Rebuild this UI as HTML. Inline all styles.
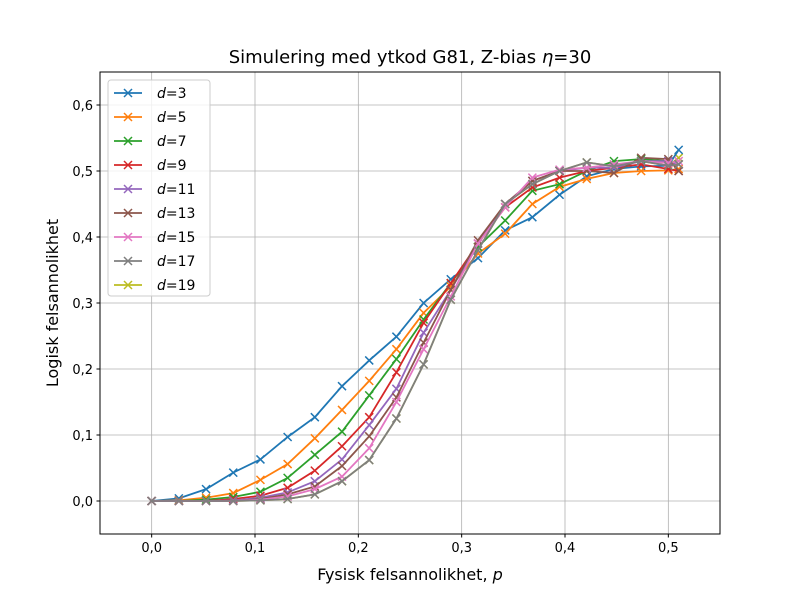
<!DOCTYPE html>
<html><head><meta charset="utf-8"><style>
body{margin:0;background:#fff;}
text{font-family:"DejaVu Sans","Liberation Sans",sans-serif;}
</style></head><body>
<svg id="chart" width="800" height="600" xmlns="http://www.w3.org/2000/svg">
<rect width="800" height="600" fill="#fff"/>
<text x="410" y="63" font-size="18" text-anchor="middle">Simulering med ytkod G81, Z-bias <tspan font-style="italic">η</tspan>=30</text>
<text x="410" y="580" font-size="16" text-anchor="middle">Fysisk felsannolikhet, <tspan font-style="italic">p</tspan></text>
<text transform="translate(58,303) rotate(-90)" font-size="16" text-anchor="middle">Logisk felsannolikhet</text>
<g id="grid"></g><g id="series"></g><g id="ticks"></g>
<rect x="100" y="72" width="620" height="462" fill="none" stroke="#000" stroke-width="1"/>
<g id="legend"></g>
</svg>
<script>
const xTicks=[0,0.1,0.2,0.3,0.4,0.5];
const xTickLabels=["0,0","0,1","0,2","0,3","0,4","0,5"];
const yTicks=[0,0.1,0.2,0.3,0.4,0.5,0.6];
const yTickLabels=["0,0","0,1","0,2","0,3","0,4","0,5","0,6"];
const pValues=[0,1/38,2/38,3/38,4/38,5/38,6/38,7/38,8/38,9/38,10/38,11/38,12/38,13/38,14/38,15/38,16/38,17/38,18/38,19/38,0.51];
const seriesLabels=["3","5","7","9","11","13","15","17","19"];
const d3=[0,0.004,0.018,0.043,0.063,0.097,0.127,0.174,0.213,0.249,0.3,0.336,0.368,0.41,0.43,0.464,0.492,0.503,0.507,0.508,0.532];
const d5=[0,0.001,0.005,0.012,0.032,0.056,0.095,0.138,0.182,0.23,0.285,0.325,0.375,0.405,0.45,0.476,0.488,0.497,0.5,0.501,0.503];
const d7=[0,0,0.002,0.006,0.014,0.035,0.07,0.105,0.16,0.215,0.275,0.33,0.385,0.425,0.47,0.48,0.5,0.515,0.518,0.515,0.51];
const d9=[0,0,0,0.003,0.008,0.02,0.046,0.083,0.127,0.195,0.27,0.33,0.39,0.445,0.475,0.49,0.5,0.505,0.51,0.503,0.5];
const d11=[0,0,0,0.001,0.005,0.013,0.03,0.063,0.115,0.17,0.255,0.32,0.39,0.45,0.485,0.5,0.505,0.505,0.515,0.515,0.51];
const d13=[0,0,0,0,0.003,0.01,0.022,0.053,0.098,0.157,0.24,0.32,0.395,0.45,0.485,0.5,0.5,0.497,0.52,0.518,0.5];
const d15=[0,0,0,0,0.002,0.007,0.018,0.037,0.08,0.15,0.23,0.31,0.39,0.445,0.49,0.502,0.505,0.51,0.515,0.512,0.515];
const d17=[0,0,0,0,0.001,0.003,0.01,0.03,0.062,0.125,0.207,0.305,0.38,0.45,0.48,0.5,0.513,0.507,0.515,0.508,0.51];
const d19=[0,0,0,0,0.001,0.003,0.01,0.03,0.062,0.125,0.207,0.305,0.38,0.45,0.48,0.5,0.513,0.507,0.515,0.508,0.52];
const allSeries=[d3,d5,d7,d9,d11,d13,d15,d17,d19];
const colors=["#1f77b4","#ff7f0e","#2ca02c","#d62728","#9467bd","#8c564b","#e377c2","#7f7f7f","#bcbd22"];
const drawOrder=[8,0,1,2,3,4,5,6,7];
const NS="http://www.w3.org/2000/svg";
const X0=100,X1=720,Y0=534,Y1=72,xmin=-0.05,xmax=0.55,ymin=-0.05,ymax=0.65;
function xs(v){return X0+(v-xmin)/(xmax-xmin)*(X1-X0);}
function ys(v){return Y0-(v-ymin)/(ymax-ymin)*(Y0-Y1);}
function mk(tag,attrs,parent){const e=document.createElementNS(NS,tag);for(const k in attrs)e.setAttribute(k,attrs[k]);parent.appendChild(e);return e;}
const grid=document.getElementById('grid'),ticks=document.getElementById('ticks'),ser=document.getElementById('series'),leg=document.getElementById('legend');
xTicks.forEach((t,i)=>{const x=xs(t);
 const g=mk('line',{x1:x,x2:x,y1:Y1,y2:Y0,stroke:'#b0b0b0','stroke-width':0.8},grid);
 
 
 mk('line',{x1:x,x2:x,y1:Y0,y2:Y0+3.5,stroke:'#000'},ticks);
 const tx=mk('text',{x:x,y:Y0+18,'font-size':13,'text-anchor':'middle'},ticks);tx.textContent=xTickLabels[i];
 
 
});
yTicks.forEach((t,i)=>{const y=ys(t);
 const g=mk('line',{x1:X0,x2:X1,y1:y,y2:y,stroke:'#b0b0b0','stroke-width':0.8},grid);
 
 
 mk('line',{x1:X0-3.5,x2:X0,y1:y,y2:y,stroke:'#000'},ticks);
 const tx=mk('text',{x:X0-7,y:y+5,'font-size':13,'text-anchor':'end'},ticks);tx.textContent=yTickLabels[i];
 
 
});
function cross(g,x,y,c){mk('path',{d:`M${x-4},${y-4}L${x+4},${y+4}M${x-4},${y+4}L${x+4},${y-4}`,stroke:c,'stroke-width':1.5,fill:'none'},g);}
drawOrder.forEach(k=>{const s=allSeries[k];
 const g=mk('g',{},ser);
 
 
 const pts=s.map((v,i)=>xs(pValues[i])+','+ys(v)).join(' ');
 mk('polyline',{points:pts,fill:'none',stroke:colors[k],'stroke-width':1.8},g);
 s.forEach((v,i)=>cross(g,xs(pValues[i]),ys(v),colors[k]));
});
const lb=mk('rect',{x:108,y:80,width:102,height:216,rx:3,fill:'#fff','fill-opacity':0.8,stroke:'#ccc'},leg);


seriesLabels.forEach((n,k)=>{const y=93+k*24;
 const g=mk('g',{},leg);
 
 
 mk('line',{x1:114,x2:142,y1:y,y2:y,stroke:colors[k],'stroke-width':1.8},g);
 cross(g,128,y,colors[k]);
 const t=mk('text',{x:157,y:y+5,'font-size':14},g);
 t.innerHTML='<tspan font-style="italic">d</tspan>=<tspan>'+n+'</tspan>';
});
</script>
</body></html>
